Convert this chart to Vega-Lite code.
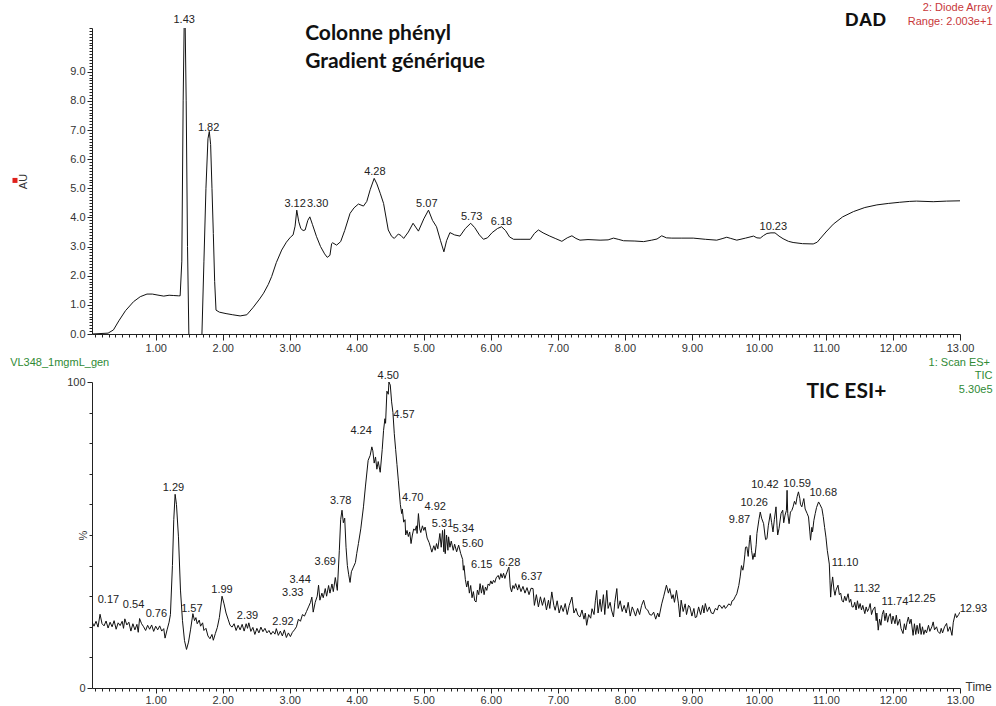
{
"$schema":"https://vega.github.io/schema/vega-lite/v6.json",
"background":"white",
"padding":{"left":10,"top":2,"right":0,"bottom":0},
"spacing":48,
"bounds":"flush",
"config":{"view":{"stroke":null},"axis":{"labelFont":"Liberation Sans","labelFontSize":11,"labelColor":"#333","titleFont":"Liberation Sans","titleFontWeight":"normal","titleFontSize":11,"titleColor":"#333","domainColor":"#222","tickColor":"#222","grid":false,"labelOverlap":false,"labelBound":false,"labelFlush":false,"labelPadding":2}},
"datasets":{
"dad":[{"t":0.05,"v":0},{"t":0.29,"v":0.03},{"t":0.37,"v":0.14},{"t":0.45,"v":0.45},{"t":0.55,"v":0.8},{"t":0.67,"v":1.11},{"t":0.77,"v":1.28},{"t":0.87,"v":1.37},{"t":0.95,"v":1.37},{"t":1.02,"v":1.34},{"t":1.12,"v":1.30},{"t":1.20,"v":1.33},{"t":1.27,"v":1.32},{"t":1.34,"v":1.31},{"t":1.365,"v":1.31},{"t":1.39,"v":2.5},{"t":1.41,"v":8.0},{"t":1.425,"v":10.6},{"t":1.44,"v":10.6},{"t":1.455,"v":8.0},{"t":1.475,"v":3.0},{"t":1.495,"v":0},{"t":1.52,"v":-0.5},{"t":1.66,"v":-0.5},{"t":1.69,"v":0},{"t":1.72,"v":2.5},{"t":1.75,"v":5.0},{"t":1.78,"v":6.7},{"t":1.80,"v":6.95},{"t":1.82,"v":6.5},{"t":1.84,"v":5.0},{"t":1.86,"v":3.45},{"t":1.88,"v":1.8},{"t":1.90,"v":0.82},{"t":1.95,"v":0.75},{"t":2.05,"v":0.70},{"t":2.15,"v":0.66},{"t":2.26,"v":0.62},{"t":2.36,"v":0.66},{"t":2.45,"v":0.90},{"t":2.55,"v":1.20},{"t":2.61,"v":1.40},{"t":2.68,"v":1.70},{"t":2.73,"v":1.97},{"t":2.80,"v":2.45},{"t":2.88,"v":2.88},{"t":2.95,"v":3.15},{"t":3.01,"v":3.32},{"t":3.05,"v":3.40},{"t":3.08,"v":3.70},{"t":3.105,"v":4.25},{"t":3.135,"v":3.85},{"t":3.165,"v":3.62},{"t":3.20,"v":3.55},{"t":3.23,"v":3.57},{"t":3.27,"v":3.90},{"t":3.30,"v":4.02},{"t":3.34,"v":3.75},{"t":3.40,"v":3.34},{"t":3.46,"v":3.00},{"t":3.52,"v":2.75},{"t":3.56,"v":2.63},{"t":3.60,"v":2.70},{"t":3.625,"v":3.10},{"t":3.64,"v":3.13},{"t":3.70,"v":3.05},{"t":3.76,"v":3.17},{"t":3.82,"v":3.55},{"t":3.90,"v":4.14},{"t":3.96,"v":4.33},{"t":4.025,"v":4.46},{"t":4.10,"v":4.39},{"t":4.15,"v":4.55},{"t":4.20,"v":4.95},{"t":4.26,"v":5.34},{"t":4.30,"v":5.15},{"t":4.35,"v":4.83},{"t":4.40,"v":4.48},{"t":4.47,"v":3.57},{"t":4.52,"v":3.35},{"t":4.56,"v":3.28},{"t":4.62,"v":3.43},{"t":4.66,"v":3.38},{"t":4.70,"v":3.28},{"t":4.77,"v":3.50},{"t":4.84,"v":3.80},{"t":4.92,"v":3.53},{"t":5.00,"v":3.95},{"t":5.07,"v":4.25},{"t":5.13,"v":3.90},{"t":5.19,"v":3.68},{"t":5.25,"v":3.20},{"t":5.30,"v":2.82},{"t":5.34,"v":3.20},{"t":5.39,"v":3.48},{"t":5.46,"v":3.40},{"t":5.54,"v":3.36},{"t":5.62,"v":3.62},{"t":5.70,"v":3.80},{"t":5.76,"v":3.65},{"t":5.83,"v":3.40},{"t":5.89,"v":3.25},{"t":5.95,"v":3.30},{"t":6.02,"v":3.48},{"t":6.10,"v":3.62},{"t":6.16,"v":3.68},{"t":6.22,"v":3.55},{"t":6.28,"v":3.33},{"t":6.34,"v":3.25},{"t":6.45,"v":3.25},{"t":6.59,"v":3.25},{"t":6.65,"v":3.45},{"t":6.71,"v":3.57},{"t":6.78,"v":3.47},{"t":6.88,"v":3.36},{"t":6.97,"v":3.27},{"t":7.06,"v":3.18},{"t":7.14,"v":3.30},{"t":7.21,"v":3.37},{"t":7.27,"v":3.28},{"t":7.33,"v":3.22},{"t":7.45,"v":3.24},{"t":7.63,"v":3.22},{"t":7.75,"v":3.23},{"t":7.83,"v":3.29},{"t":7.90,"v":3.25},{"t":7.98,"v":3.20},{"t":8.15,"v":3.19},{"t":8.28,"v":3.17},{"t":8.40,"v":3.22},{"t":8.48,"v":3.26},{"t":8.55,"v":3.37},{"t":8.62,"v":3.30},{"t":8.70,"v":3.29},{"t":8.85,"v":3.29},{"t":9.02,"v":3.29},{"t":9.20,"v":3.25},{"t":9.37,"v":3.22},{"t":9.45,"v":3.27},{"t":9.52,"v":3.32},{"t":9.58,"v":3.28},{"t":9.67,"v":3.22},{"t":9.80,"v":3.29},{"t":9.92,"v":3.36},{"t":9.97,"v":3.30},{"t":10.02,"v":3.29},{"t":10.07,"v":3.38},{"t":10.12,"v":3.45},{"t":10.18,"v":3.47},{"t":10.24,"v":3.47},{"t":10.30,"v":3.36},{"t":10.36,"v":3.27},{"t":10.44,"v":3.18},{"t":10.51,"v":3.14},{"t":10.65,"v":3.10},{"t":10.81,"v":3.09},{"t":10.87,"v":3.15},{"t":10.91,"v":3.26},{"t":11.00,"v":3.50},{"t":11.11,"v":3.77},{"t":11.25,"v":4.02},{"t":11.41,"v":4.20},{"t":11.58,"v":4.34},{"t":11.76,"v":4.43},{"t":11.93,"v":4.48},{"t":12.10,"v":4.52},{"t":12.25,"v":4.55},{"t":12.35,"v":4.56},{"t":12.60,"v":4.54},{"t":12.80,"v":4.56},{"t":13.00,"v":4.57}],
"dadPeaks":[{"label":"1.43","t":1.425,"v":10.77},{"label":"1.82","t":1.79,"v":7.08},{"label":"3.12","t":3.08,"v":4.47},{"label":"3.30","t":3.416,"v":4.47},{"label":"4.28","t":4.27,"v":5.57},{"label":"5.07","t":5.045,"v":4.46},{"label":"5.73","t":5.715,"v":4.0},{"label":"6.18","t":6.16,"v":3.85},{"label":"10.23","t":10.215,"v":3.66}],
"dadHead":[{"label":"Colonne phényl","t":3.23,"v":10.31},{"label":"Gradient générique","t":3.23,"v":9.34}],
"dadTag":[{"label":"DAD","t":11.285,"v":10.77}],
"dadInfo":[{"label":"2: Diode Array","t":13.485,"v":11.17},{"label":"Range: 2.003e+1","t":13.485,"v":10.69}],
"dadMark":[{"t":-1.099,"v":5.27}],
"tic":[{"t":0.05,"p":21.6},{"t":0.08,"p":20.2},{"t":0.11,"p":21.8},{"t":0.14,"p":19.9},{"t":0.17,"p":24.1},{"t":0.20,"p":21.0},{"t":0.23,"p":20.3},{"t":0.26,"p":21.9},{"t":0.29,"p":19.6},{"t":0.32,"p":21.5},{"t":0.35,"p":20.0},{"t":0.38,"p":22.0},{"t":0.41,"p":19.2},{"t":0.44,"p":21.3},{"t":0.47,"p":20.4},{"t":0.50,"p":21.8},{"t":0.52,"p":19.5},{"t":0.54,"p":22.6},{"t":0.57,"p":20.6},{"t":0.60,"p":21.5},{"t":0.63,"p":18.6},{"t":0.66,"p":21.0},{"t":0.69,"p":19.0},{"t":0.72,"p":20.8},{"t":0.74,"p":18.2},{"t":0.76,"p":22.7},{"t":0.79,"p":21.0},{"t":0.82,"p":20.0},{"t":0.85,"p":18.8},{"t":0.88,"p":20.5},{"t":0.91,"p":19.2},{"t":0.94,"p":20.6},{"t":0.97,"p":18.5},{"t":1.00,"p":20.2},{"t":1.03,"p":19.0},{"t":1.06,"p":20.3},{"t":1.09,"p":18.6},{"t":1.12,"p":19.4},{"t":1.14,"p":16.3},{"t":1.17,"p":19.0},{"t":1.20,"p":21.5},{"t":1.22,"p":24.0},{"t":1.25,"p":40.0},{"t":1.27,"p":55.0},{"t":1.29,"p":63.3},{"t":1.31,"p":60.0},{"t":1.34,"p":49.4},{"t":1.37,"p":32.0},{"t":1.40,"p":22.0},{"t":1.43,"p":15.5},{"t":1.46,"p":12.6},{"t":1.49,"p":15.0},{"t":1.52,"p":19.0},{"t":1.555,"p":24.3},{"t":1.58,"p":22.0},{"t":1.60,"p":23.0},{"t":1.62,"p":21.0},{"t":1.65,"p":22.2},{"t":1.67,"p":20.2},{"t":1.70,"p":21.3},{"t":1.72,"p":18.8},{"t":1.75,"p":19.5},{"t":1.78,"p":17.0},{"t":1.81,"p":16.1},{"t":1.84,"p":17.5},{"t":1.86,"p":15.6},{"t":1.89,"p":17.8},{"t":1.92,"p":19.8},{"t":1.95,"p":23.0},{"t":1.99,"p":30.0},{"t":2.02,"p":27.5},{"t":2.05,"p":24.5},{"t":2.08,"p":22.5},{"t":2.11,"p":20.5},{"t":2.14,"p":19.9},{"t":2.17,"p":21.0},{"t":2.20,"p":18.8},{"t":2.23,"p":20.5},{"t":2.26,"p":19.0},{"t":2.29,"p":20.8},{"t":2.32,"p":18.6},{"t":2.35,"p":21.0},{"t":2.37,"p":19.5},{"t":2.39,"p":21.3},{"t":2.42,"p":18.5},{"t":2.45,"p":19.8},{"t":2.48,"p":17.5},{"t":2.51,"p":19.5},{"t":2.54,"p":18.0},{"t":2.57,"p":19.9},{"t":2.60,"p":18.4},{"t":2.63,"p":19.5},{"t":2.66,"p":18.0},{"t":2.69,"p":18.8},{"t":2.72,"p":17.5},{"t":2.75,"p":18.5},{"t":2.78,"p":17.6},{"t":2.80,"p":19.4},{"t":2.83,"p":17.2},{"t":2.86,"p":18.6},{"t":2.89,"p":17.0},{"t":2.92,"p":19.0},{"t":2.95,"p":16.5},{"t":2.98,"p":18.0},{"t":3.01,"p":16.8},{"t":3.04,"p":18.2},{"t":3.07,"p":19.0},{"t":3.10,"p":20.0},{"t":3.13,"p":22.5},{"t":3.16,"p":21.8},{"t":3.19,"p":24.0},{"t":3.22,"p":23.5},{"t":3.25,"p":25.0},{"t":3.28,"p":26.5},{"t":3.31,"p":28.0},{"t":3.33,"p":29.7},{"t":3.35,"p":24.8},{"t":3.38,"p":28.0},{"t":3.41,"p":30.0},{"t":3.43,"p":33.6},{"t":3.45,"p":28.7},{"t":3.48,"p":31.0},{"t":3.50,"p":29.5},{"t":3.53,"p":32.5},{"t":3.55,"p":30.0},{"t":3.58,"p":33.5},{"t":3.60,"p":31.0},{"t":3.63,"p":34.0},{"t":3.65,"p":31.5},{"t":3.68,"p":36.1},{"t":3.71,"p":31.9},{"t":3.74,"p":45.0},{"t":3.76,"p":55.0},{"t":3.78,"p":58.1},{"t":3.80,"p":54.0},{"t":3.82,"p":55.5},{"t":3.84,"p":46.0},{"t":3.86,"p":40.0},{"t":3.88,"p":37.0},{"t":3.90,"p":34.5},{"t":3.92,"p":38.0},{"t":3.95,"p":39.5},{"t":3.98,"p":41.0},{"t":4.00,"p":44.0},{"t":4.025,"p":47.2},{"t":4.06,"p":52.0},{"t":4.10,"p":59.2},{"t":4.13,"p":66.0},{"t":4.17,"p":74.4},{"t":4.20,"p":76.0},{"t":4.225,"p":78.8},{"t":4.24,"p":77.5},{"t":4.26,"p":73.5},{"t":4.28,"p":75.5},{"t":4.30,"p":71.5},{"t":4.32,"p":74.0},{"t":4.35,"p":70.5},{"t":4.38,"p":78.0},{"t":4.40,"p":84.2},{"t":4.42,"p":88.0},{"t":4.43,"p":86.5},{"t":4.45,"p":97.0},{"t":4.47,"p":96.0},{"t":4.48,"p":100},{"t":4.50,"p":99.0},{"t":4.52,"p":93.5},{"t":4.54,"p":90.0},{"t":4.56,"p":83.1},{"t":4.58,"p":78.0},{"t":4.60,"p":73.0},{"t":4.62,"p":67.9},{"t":4.65,"p":60.0},{"t":4.67,"p":57.0},{"t":4.68,"p":58.5},{"t":4.70,"p":54.2},{"t":4.72,"p":55.0},{"t":4.73,"p":50.0},{"t":4.75,"p":51.5},{"t":4.77,"p":49.5},{"t":4.79,"p":51.0},{"t":4.81,"p":47.2},{"t":4.83,"p":50.0},{"t":4.85,"p":52.0},{"t":4.87,"p":51.5},{"t":4.89,"p":53.0},{"t":4.90,"p":50.5},{"t":4.92,"p":57.0},{"t":4.94,"p":52.0},{"t":4.955,"p":50.8},{"t":4.98,"p":53.0},{"t":5.00,"p":51.5},{"t":5.02,"p":52.6},{"t":5.05,"p":49.0},{"t":5.08,"p":47.5},{"t":5.10,"p":46.0},{"t":5.12,"p":44.4},{"t":5.15,"p":46.5},{"t":5.17,"p":45.0},{"t":5.19,"p":47.2},{"t":5.21,"p":45.5},{"t":5.24,"p":50.5},{"t":5.26,"p":46.0},{"t":5.28,"p":51.5},{"t":5.30,"p":44.5},{"t":5.31,"p":51.8},{"t":5.32,"p":43.9},{"t":5.34,"p":50.0},{"t":5.36,"p":45.0},{"t":5.37,"p":49.4},{"t":5.39,"p":46.0},{"t":5.41,"p":48.0},{"t":5.44,"p":45.0},{"t":5.46,"p":47.0},{"t":5.49,"p":44.5},{"t":5.52,"p":46.7},{"t":5.55,"p":44.0},{"t":5.58,"p":42.0},{"t":5.59,"p":38.5},{"t":5.60,"p":40.0},{"t":5.62,"p":35.5},{"t":5.64,"p":33.0},{"t":5.66,"p":35.0},{"t":5.68,"p":31.0},{"t":5.70,"p":33.5},{"t":5.72,"p":29.5},{"t":5.74,"p":31.5},{"t":5.76,"p":28.5},{"t":5.78,"p":28.1},{"t":5.80,"p":32.0},{"t":5.82,"p":30.5},{"t":5.84,"p":34.1},{"t":5.86,"p":31.0},{"t":5.88,"p":33.5},{"t":5.90,"p":30.5},{"t":5.92,"p":33.0},{"t":5.94,"p":31.9},{"t":5.96,"p":34.0},{"t":5.98,"p":33.5},{"t":6.00,"p":35.0},{"t":6.02,"p":34.0},{"t":6.04,"p":35.2},{"t":6.06,"p":34.5},{"t":6.08,"p":36.0},{"t":6.11,"p":36.8},{"t":6.13,"p":35.5},{"t":6.15,"p":37.4},{"t":6.17,"p":36.0},{"t":6.19,"p":37.5},{"t":6.21,"p":35.8},{"t":6.23,"p":37.2},{"t":6.26,"p":39.0},{"t":6.27,"p":39.5},{"t":6.29,"p":33.0},{"t":6.31,"p":31.4},{"t":6.33,"p":33.5},{"t":6.35,"p":32.5},{"t":6.37,"p":34.1},{"t":6.40,"p":32.0},{"t":6.42,"p":33.8},{"t":6.45,"p":31.5},{"t":6.48,"p":33.2},{"t":6.51,"p":31.0},{"t":6.54,"p":32.8},{"t":6.57,"p":30.5},{"t":6.60,"p":32.6},{"t":6.63,"p":32.5},{"t":6.65,"p":27.0},{"t":6.68,"p":30.5},{"t":6.71,"p":26.5},{"t":6.74,"p":29.8},{"t":6.77,"p":27.0},{"t":6.80,"p":29.5},{"t":6.83,"p":25.5},{"t":6.86,"p":28.7},{"t":6.88,"p":26.0},{"t":6.91,"p":31.4},{"t":6.94,"p":27.0},{"t":6.96,"p":25.4},{"t":6.99,"p":28.5},{"t":7.02,"p":24.5},{"t":7.05,"p":27.0},{"t":7.08,"p":25.0},{"t":7.11,"p":27.6},{"t":7.14,"p":24.0},{"t":7.17,"p":27.0},{"t":7.21,"p":29.7},{"t":7.24,"p":24.5},{"t":7.27,"p":26.0},{"t":7.30,"p":23.8},{"t":7.33,"p":23.2},{"t":7.36,"p":25.5},{"t":7.39,"p":22.5},{"t":7.41,"p":24.5},{"t":7.43,"p":20.5},{"t":7.46,"p":24.0},{"t":7.49,"p":22.8},{"t":7.51,"p":25.9},{"t":7.54,"p":24.0},{"t":7.56,"p":28.5},{"t":7.58,"p":31.9},{"t":7.60,"p":24.5},{"t":7.63,"p":29.0},{"t":7.65,"p":25.0},{"t":7.68,"p":30.5},{"t":7.70,"p":24.0},{"t":7.73,"p":31.9},{"t":7.75,"p":26.0},{"t":7.78,"p":28.0},{"t":7.80,"p":25.5},{"t":7.83,"p":23.2},{"t":7.85,"p":28.0},{"t":7.88,"p":32.5},{"t":7.90,"p":26.0},{"t":7.93,"p":28.5},{"t":7.96,"p":25.0},{"t":7.99,"p":27.0},{"t":8.02,"p":24.5},{"t":8.05,"p":28.0},{"t":8.08,"p":23.5},{"t":8.11,"p":26.5},{"t":8.13,"p":25.4},{"t":8.16,"p":23.5},{"t":8.19,"p":26.0},{"t":8.22,"p":24.0},{"t":8.25,"p":27.0},{"t":8.28,"p":28.7},{"t":8.31,"p":26.0},{"t":8.34,"p":25.5},{"t":8.37,"p":24.0},{"t":8.40,"p":23.8},{"t":8.43,"p":24.8},{"t":8.46,"p":22.5},{"t":8.49,"p":24.5},{"t":8.51,"p":23.2},{"t":8.55,"p":27.5},{"t":8.58,"p":30.0},{"t":8.62,"p":33.6},{"t":8.65,"p":31.0},{"t":8.67,"p":32.5},{"t":8.70,"p":29.2},{"t":8.72,"p":30.5},{"t":8.74,"p":28.0},{"t":8.77,"p":31.9},{"t":8.80,"p":27.5},{"t":8.82,"p":23.2},{"t":8.84,"p":28.7},{"t":8.87,"p":25.0},{"t":8.90,"p":27.5},{"t":8.92,"p":24.0},{"t":8.95,"p":27.0},{"t":8.97,"p":26.5},{"t":9.00,"p":23.5},{"t":9.03,"p":26.0},{"t":9.05,"p":23.0},{"t":9.07,"p":23.2},{"t":9.10,"p":26.5},{"t":9.13,"p":24.0},{"t":9.16,"p":27.0},{"t":9.18,"p":24.5},{"t":9.20,"p":27.6},{"t":9.23,"p":25.0},{"t":9.26,"p":26.5},{"t":9.29,"p":24.5},{"t":9.32,"p":24.3},{"t":9.35,"p":26.0},{"t":9.38,"p":25.5},{"t":9.40,"p":27.0},{"t":9.42,"p":27.0},{"t":9.45,"p":26.0},{"t":9.48,"p":27.0},{"t":9.50,"p":26.0},{"t":9.52,"p":26.5},{"t":9.55,"p":27.5},{"t":9.58,"p":27.0},{"t":9.60,"p":28.5},{"t":9.62,"p":28.7},{"t":9.65,"p":30.0},{"t":9.67,"p":30.8},{"t":9.70,"p":33.5},{"t":9.72,"p":36.3},{"t":9.74,"p":40.0},{"t":9.76,"p":38.5},{"t":9.77,"p":39.5},{"t":9.79,"p":43.5},{"t":9.80,"p":46.0},{"t":9.82,"p":46.1},{"t":9.84,"p":43.0},{"t":9.86,"p":48.5},{"t":9.87,"p":49.9},{"t":9.89,"p":45.0},{"t":9.91,"p":42.0},{"t":9.93,"p":44.0},{"t":9.94,"p":42.8},{"t":9.96,"p":47.0},{"t":9.97,"p":50.5},{"t":10.00,"p":55.0},{"t":10.02,"p":57.5},{"t":10.04,"p":55.5},{"t":10.07,"p":53.7},{"t":10.09,"p":50.0},{"t":10.10,"p":48.5},{"t":10.12,"p":48.8},{"t":10.14,"p":53.0},{"t":10.17,"p":57.0},{"t":10.19,"p":54.0},{"t":10.21,"p":51.0},{"t":10.23,"p":55.0},{"t":10.255,"p":59.2},{"t":10.27,"p":53.0},{"t":10.28,"p":50.0},{"t":10.30,"p":52.1},{"t":10.33,"p":57.0},{"t":10.355,"p":58.1},{"t":10.37,"p":54.0},{"t":10.39,"p":56.5},{"t":10.41,"p":58.0},{"t":10.42,"p":64.6},{"t":10.43,"p":57.0},{"t":10.45,"p":53.7},{"t":10.47,"p":57.5},{"t":10.49,"p":58.0},{"t":10.51,"p":59.2},{"t":10.53,"p":61.0},{"t":10.55,"p":60.0},{"t":10.57,"p":62.5},{"t":10.59,"p":64.1},{"t":10.61,"p":62.0},{"t":10.62,"p":60.0},{"t":10.64,"p":59.2},{"t":10.66,"p":61.0},{"t":10.67,"p":61.9},{"t":10.69,"p":58.5},{"t":10.72,"p":57.0},{"t":10.74,"p":55.9},{"t":10.76,"p":51.0},{"t":10.77,"p":48.3},{"t":10.79,"p":52.5},{"t":10.80,"p":51.0},{"t":10.82,"p":54.8},{"t":10.84,"p":57.0},{"t":10.86,"p":59.0},{"t":10.89,"p":60.8},{"t":10.91,"p":60.0},{"t":10.94,"p":58.6},{"t":10.96,"p":56.0},{"t":10.98,"p":52.5},{"t":11.00,"p":49.3},{"t":11.02,"p":45.0},{"t":11.035,"p":42.8},{"t":11.05,"p":40.5},{"t":11.06,"p":35.0},{"t":11.07,"p":29.7},{"t":11.08,"p":33.0},{"t":11.10,"p":36.3},{"t":11.12,"p":32.0},{"t":11.135,"p":30.3},{"t":11.15,"p":32.0},{"t":11.18,"p":33.6},{"t":11.20,"p":30.5},{"t":11.22,"p":31.0},{"t":11.24,"p":28.5},{"t":11.26,"p":28.1},{"t":11.28,"p":30.0},{"t":11.30,"p":28.5},{"t":11.33,"p":30.8},{"t":11.35,"p":28.0},{"t":11.37,"p":29.0},{"t":11.39,"p":26.5},{"t":11.41,"p":26.5},{"t":11.43,"p":28.0},{"t":11.45,"p":25.5},{"t":11.47,"p":28.5},{"t":11.49,"p":26.0},{"t":11.51,"p":27.6},{"t":11.53,"p":25.5},{"t":11.55,"p":27.0},{"t":11.58,"p":24.3},{"t":11.60,"p":26.5},{"t":11.62,"p":25.0},{"t":11.64,"p":26.0},{"t":11.66,"p":27.6},{"t":11.68,"p":24.0},{"t":11.70,"p":25.5},{"t":11.73,"p":26.5},{"t":11.75,"p":22.0},{"t":11.76,"p":24.5},{"t":11.78,"p":18.9},{"t":11.80,"p":22.5},{"t":11.82,"p":20.5},{"t":11.84,"p":24.0},{"t":11.86,"p":25.4},{"t":11.88,"p":22.0},{"t":11.90,"p":24.5},{"t":11.92,"p":21.5},{"t":11.94,"p":23.5},{"t":11.96,"p":24.3},{"t":11.98,"p":21.0},{"t":12.00,"p":23.5},{"t":12.03,"p":21.0},{"t":12.05,"p":23.8},{"t":12.07,"p":20.5},{"t":12.10,"p":22.5},{"t":12.12,"p":19.5},{"t":12.15,"p":17.8},{"t":12.17,"p":21.0},{"t":12.19,"p":19.0},{"t":12.21,"p":21.5},{"t":12.23,"p":23.2},{"t":12.25,"p":21.0},{"t":12.27,"p":22.5},{"t":12.30,"p":17.2},{"t":12.32,"p":21.0},{"t":12.34,"p":17.5},{"t":12.36,"p":20.5},{"t":12.38,"p":17.8},{"t":12.40,"p":21.1},{"t":12.42,"p":17.5},{"t":12.44,"p":20.0},{"t":12.46,"p":17.5},{"t":12.48,"p":19.0},{"t":12.50,"p":18.0},{"t":12.53,"p":20.5},{"t":12.55,"p":18.5},{"t":12.58,"p":20.0},{"t":12.60,"p":21.6},{"t":12.62,"p":19.0},{"t":12.65,"p":20.0},{"t":12.67,"p":18.5},{"t":12.70,"p":17.8},{"t":12.72,"p":19.5},{"t":12.74,"p":18.0},{"t":12.77,"p":20.0},{"t":12.80,"p":21.1},{"t":12.82,"p":18.5},{"t":12.85,"p":20.0},{"t":12.88,"p":17.2},{"t":12.90,"p":21.5},{"t":12.93,"p":24.3},{"t":12.95,"p":23.0},{"t":12.98,"p":24.0},{"t":13.00,"p":24.8}],
"ticPeaks":[{"label":"0.17","t":0.295,"p":28.7},{"label":"0.54","t":0.67,"p":27.0},{"label":"0.76","t":1.01,"p":24.1},{"label":"1.29","t":1.265,"p":65.2},{"label":"1.57","t":1.54,"p":25.9},{"label":"1.99","t":1.99,"p":31.9},{"label":"2.39","t":2.37,"p":23.4},{"label":"2.92","t":2.90,"p":21.6},{"label":"3.33","t":3.045,"p":31.0},{"label":"3.44","t":3.155,"p":35.4},{"label":"3.69","t":3.53,"p":41.2},{"label":"3.78","t":3.76,"p":61.0},{"label":"4.24","t":4.065,"p":84.0},{"label":"4.50","t":4.47,"p":101.9},{"label":"4.57","t":4.705,"p":89.1},{"label":"4.70","t":4.835,"p":62.2},{"label":"4.92","t":5.17,"p":59.2},{"label":"5.31","t":5.28,"p":53.7},{"label":"5.34","t":5.59,"p":51.8},{"label":"5.60","t":5.73,"p":47.2},{"label":"6.15","t":5.865,"p":40.1},{"label":"6.28","t":6.28,"p":40.8},{"label":"6.37","t":6.61,"p":36.3},{"label":"9.87","t":9.71,"p":55.0},{"label":"10.26","t":9.93,"p":60.6},{"label":"10.42","t":10.09,"p":66.2},{"label":"10.59","t":10.57,"p":66.8},{"label":"10.68","t":10.96,"p":63.7},{"label":"11.10","t":11.285,"p":40.7},{"label":"11.32","t":11.61,"p":32.2},{"label":"11.74","t":12.03,"p":28.1},{"label":"12.25","t":12.43,"p":29.2},{"label":"12.93","t":13.2,"p":25.9}],
"ticHead":[{"label":"TIC ESI+","t":10.71,"p":96.7}],
"ticName":[{"label":"VL348_1mgmL_gen","t":-1.171,"p":106.2}],
"ticInfo":[{"label":"1: Scan ES+","t":13.448,"p":106.3},{"label":"TIC","t":13.485,"p":101.9},{"label":"5.30e5","t":13.485,"p":97.5}]
},
"vconcat":[
{
"width":868,"height":306,
"resolve":{"axis":{"x":"independent","y":"independent"}},
"layer":[
{"data":{"name":"dad"},"mark":{"type":"line","clip":true,"color":"#111","strokeWidth":1},
"encoding":{
"x":{"field":"t","type":"quantitative","scale":{"domain":[0.05,13],"nice":false,"zero":false},"axis":{"orient":"bottom","values":[1,2,3,4,5,6,7,8,9,10,11,12,13],"format":".2f","tickSize":6,"title":null}},
"y":{"field":"v","type":"quantitative","scale":{"domain":[0,10.5],"nice":false,"zero":false},"axis":{"orient":"left","values":[0,1,2,3,4,5,6,7,8,9],"format":".1f","tickSize":5,"title":"AU","titleX":-69,"titleY":153,"titleBaseline":"middle","titleAngle":-90}}}},
{"data":{"name":"dadPeaks"},"mark":{"type":"text","font":"Liberation Sans","fontSize":11,"color":"#222","align":"center","baseline":"middle"},
"encoding":{
"x":{"field":"t","type":"quantitative","scale":{"domain":[0.05,13],"nice":false,"zero":false},"axis":{"orient":"bottom","values":[0.1,0.2,0.3,0.4,0.5,0.6,0.7,0.8,0.9,1.1,1.2,1.3,1.4,1.5,1.6,1.7,1.8,1.9,2.1,2.2,2.3,2.4,2.5,2.6,2.7,2.8,2.9,3.1,3.2,3.3,3.4,3.5,3.6,3.7,3.8,3.9,4.1,4.2,4.3,4.4,4.5,4.6,4.7,4.8,4.9,5.1,5.2,5.3,5.4,5.5,5.6,5.7,5.8,5.9,6.1,6.2,6.3,6.4,6.5,6.6,6.7,6.8,6.9,7.1,7.2,7.3,7.4,7.5,7.6,7.7,7.8,7.9,8.1,8.2,8.3,8.4,8.5,8.6,8.7,8.8,8.9,9.1,9.2,9.3,9.4,9.5,9.6,9.7,9.8,9.9,10.1,10.2,10.3,10.4,10.5,10.6,10.7,10.8,10.9,11.1,11.2,11.3,11.4,11.5,11.6,11.7,11.8,11.9,12.1,12.2,12.3,12.4,12.5,12.6,12.7,12.8,12.9],"labels":false,"domain":false,"tickSize":3,"title":null}},
"y":{"field":"v","type":"quantitative","scale":{"domain":[0,10.5],"nice":false,"zero":false},"axis":{"orient":"left","values":[0.1,0.2,0.3,0.4,0.5,0.6,0.7,0.8,0.9,1.1,1.2,1.3,1.4,1.5,1.6,1.7,1.8,1.9,2.1,2.2,2.3,2.4,2.5,2.6,2.7,2.8,2.9,3.1,3.2,3.3,3.4,3.5,3.6,3.7,3.8,3.9,4.1,4.2,4.3,4.4,4.5,4.6,4.7,4.8,4.9,5.1,5.2,5.3,5.4,5.5,5.6,5.7,5.8,5.9,6.1,6.2,6.3,6.4,6.5,6.6,6.7,6.8,6.9,7.1,7.2,7.3,7.4,7.5,7.6,7.7,7.8,7.9,8.1,8.2,8.3,8.4,8.5,8.6,8.7,8.8,8.9,9.1,9.2,9.3,9.4,9.5,9.6,9.7,9.8,9.9,10,10.1,10.2,10.3,10.4,10.5],"labels":false,"domain":false,"tickSize":3,"title":null}},
"text":{"field":"label"}}},
{"data":{"name":"dadHead"},"mark":{"type":"text","font":"Lato","fontSize":21,"fontWeight":"bold","color":"#111","align":"left","baseline":"middle"},
"encoding":{"x":{"field":"t","type":"quantitative","scale":{"domain":[0.05,13],"nice":false,"zero":false},"axis":null},"y":{"field":"v","type":"quantitative","scale":{"domain":[0,10.5],"nice":false,"zero":false},"axis":null},"text":{"field":"label"}}},
{"data":{"name":"dadTag"},"mark":{"type":"text","font":"Liberation Sans","fontSize":19,"fontWeight":"bold","color":"#111","align":"left","baseline":"middle"},
"encoding":{"x":{"field":"t","type":"quantitative","scale":{"domain":[0.05,13],"nice":false,"zero":false},"axis":null},"y":{"field":"v","type":"quantitative","scale":{"domain":[0,10.5],"nice":false,"zero":false},"axis":null},"text":{"field":"label"}}},
{"data":{"name":"dadInfo"},"mark":{"type":"text","font":"Liberation Sans","fontSize":11,"color":"#c8373a","align":"right","baseline":"middle"},
"encoding":{"x":{"field":"t","type":"quantitative","scale":{"domain":[0.05,13],"nice":false,"zero":false},"axis":null},"y":{"field":"v","type":"quantitative","scale":{"domain":[0,10.5],"nice":false,"zero":false},"axis":null},"text":{"field":"label"}}},
{"data":{"name":"dadMark"},"mark":{"type":"square","filled":true,"size":25,"color":"#e0201b","opacity":1},
"encoding":{"x":{"field":"t","type":"quantitative","scale":{"domain":[0.05,13],"nice":false,"zero":false},"axis":null},"y":{"field":"v","type":"quantitative","scale":{"domain":[0,10.5],"nice":false,"zero":false},"axis":null}}}
]
},
{
"width":868,"height":306,
"resolve":{"axis":{"x":"independent","y":"independent"}},
"layer":[
{"data":{"name":"tic"},"mark":{"type":"line","clip":true,"color":"#111","strokeWidth":1},
"encoding":{
"x":{"field":"t","type":"quantitative","scale":{"domain":[0.05,13],"nice":false,"zero":false},"axis":{"orient":"bottom","values":[1,2,3,4,5,6,7,8,9,10,11,12,13],"format":".2f","tickSize":5,"labelPadding":1,"title":"Time","titleX":873,"titleY":-2,"titleAlign":"left","titleBaseline":"middle","titleAngle":0,"titleFontSize":12}},
"y":{"field":"p","type":"quantitative","scale":{"domain":[0,100],"nice":false,"zero":false},"axis":{"orient":"left","values":[0,100],"tickSize":5,"title":"%","titleX":-9,"titleY":153,"titleBaseline":"middle","titleAngle":-90}}}},
{"data":{"name":"ticPeaks"},"mark":{"type":"text","font":"Liberation Sans","fontSize":11,"color":"#222","align":"center","baseline":"middle"},
"encoding":{
"x":{"field":"t","type":"quantitative","scale":{"domain":[0.05,13],"nice":false,"zero":false},"axis":{"orient":"bottom","values":[0.1,0.2,0.3,0.4,0.5,0.6,0.7,0.8,0.9,1.1,1.2,1.3,1.4,1.5,1.6,1.7,1.8,1.9,2.1,2.2,2.3,2.4,2.5,2.6,2.7,2.8,2.9,3.1,3.2,3.3,3.4,3.5,3.6,3.7,3.8,3.9,4.1,4.2,4.3,4.4,4.5,4.6,4.7,4.8,4.9,5.1,5.2,5.3,5.4,5.5,5.6,5.7,5.8,5.9,6.1,6.2,6.3,6.4,6.5,6.6,6.7,6.8,6.9,7.1,7.2,7.3,7.4,7.5,7.6,7.7,7.8,7.9,8.1,8.2,8.3,8.4,8.5,8.6,8.7,8.8,8.9,9.1,9.2,9.3,9.4,9.5,9.6,9.7,9.8,9.9,10.1,10.2,10.3,10.4,10.5,10.6,10.7,10.8,10.9,11.1,11.2,11.3,11.4,11.5,11.6,11.7,11.8,11.9,12.1,12.2,12.3,12.4,12.5,12.6,12.7,12.8,12.9],"labels":false,"domain":false,"tickSize":3,"title":null}},
"y":{"field":"p","type":"quantitative","scale":{"domain":[0,100],"nice":false,"zero":false},"axis":{"orient":"left","values":[10,20,30,40,50,60,70,80,90],"labels":false,"domain":false,"tickSize":3,"title":null}},
"text":{"field":"label"}}},
{"data":{"name":"ticHead"},"mark":{"type":"text","font":"Lato","fontSize":21,"fontWeight":"bold","color":"#111","align":"left","baseline":"middle"},
"encoding":{"x":{"field":"t","type":"quantitative","scale":{"domain":[0.05,13],"nice":false,"zero":false},"axis":null},"y":{"field":"p","type":"quantitative","scale":{"domain":[0,100],"nice":false,"zero":false},"axis":null},"text":{"field":"label"}}},
{"data":{"name":"ticName"},"mark":{"type":"text","font":"Liberation Sans","fontSize":11,"color":"#2f8a35","align":"left","baseline":"middle"},
"encoding":{"x":{"field":"t","type":"quantitative","scale":{"domain":[0.05,13],"nice":false,"zero":false},"axis":null},"y":{"field":"p","type":"quantitative","scale":{"domain":[0,100],"nice":false,"zero":false},"axis":null},"text":{"field":"label"}}},
{"data":{"name":"ticInfo"},"mark":{"type":"text","font":"Liberation Sans","fontSize":11,"color":"#2f8a35","align":"right","baseline":"middle"},
"encoding":{"x":{"field":"t","type":"quantitative","scale":{"domain":[0.05,13],"nice":false,"zero":false},"axis":null},"y":{"field":"p","type":"quantitative","scale":{"domain":[0,100],"nice":false,"zero":false},"axis":null},"text":{"field":"label"}}}
]
}
]
}
